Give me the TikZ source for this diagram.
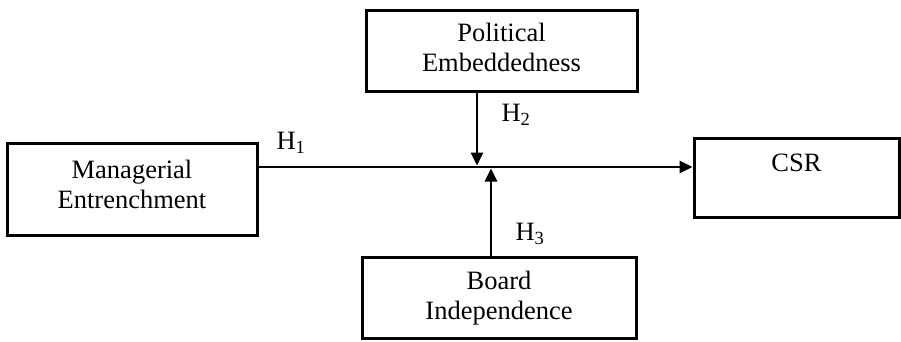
\documentclass[tikz,border=0pt]{standalone}
\usepackage{fontspec}
\setmainfont{Liberation Serif}
\usetikzlibrary{positioning,arrows.meta}
\begin{document}
\begin{tikzpicture}[x=1pt,y=-1pt,
  box/.style={draw,line width=3pt,inner sep=0pt},
  lbl/.style={font=\fontsize{26.5}{30}\selectfont,align=center,inner sep=0pt},
  arr/.style={line width=2.6pt,-{Triangle[length=13pt,width=12pt]}}]
\useasboundingbox (0,0) rectangle (901,341);
% boxes
\node [box,minimum width=271pt,minimum height=81pt] (pol) at (501.5,50.5) {};
\node [box,minimum width=250pt,minimum height=92pt] (me) at (132,189) {};
\node [box,minimum width=205pt,minimum height=79pt] (csr) at (796.5,177.5) {};
\node [box,minimum width=274pt,minimum height=81pt] (bi) at (499,297.5) {};
\node [lbl,below=14pt of pol.north] (polt) {Political\\Embeddedness};
\node [lbl,below=18pt of me.north] (met) {Managerial\\Entrenchment};
\node [lbl,below=17pt of csr.north] (csrt) {CSR};
\node [lbl,below=15pt of bi.north] (bit) {Board\\Independence};

\coordinate (j2) at (477,165.5);
\coordinate (j3) at (491,168.5);
\coordinate (hl) at (0,167);
\draw [arr] (me.east |- hl) -- (csr.west |- hl);
\draw [arr] (pol.south -| j2) -- (j2);
\draw [arr] (bi.north -| j3) -- (j3);

\node [lbl] (h1) at (291,143) {H\textsubscript{1}};
\node [lbl] (h2) at (516,115) {H\textsubscript{2}};
\node [lbl] (h3) at (530,234) {H\textsubscript{3}};
\end{tikzpicture}
\end{document}
